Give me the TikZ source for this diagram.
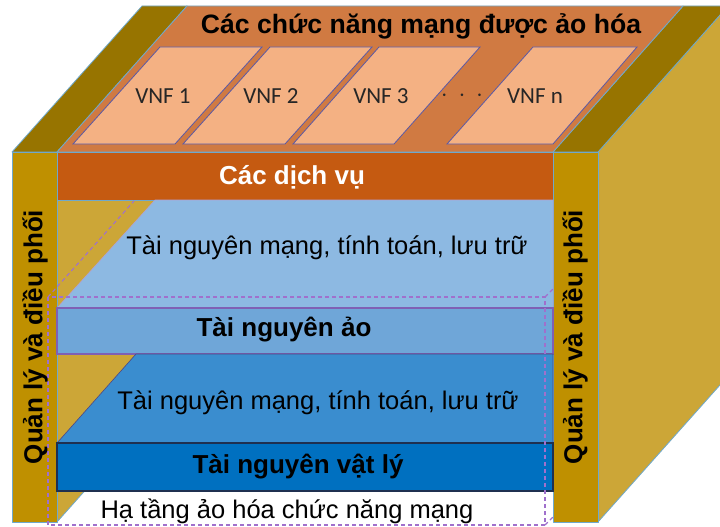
\documentclass[tikz,border=0pt]{standalone}
\usepackage{fontspec}
\setmainfont{Liberation Sans}
\newfontfamily\vnffont{Carlito}
\definecolor{pillarfront}{HTML}{BF9000}
\definecolor{pillartop}{HTML}{977400}
\definecolor{pillarside}{HTML}{CCA637}
\definecolor{vnftop}{HTML}{D07A42}
\definecolor{servband}{HTML}{C55A11}
\definecolor{vnfbox}{HTML}{F4B183}
\definecolor{lightface}{HTML}{8DB9E2}
\definecolor{virtband}{HTML}{6FA6D8}
\definecolor{darkface}{HTML}{3A8DCF}
\definecolor{physband}{HTML}{0070C0}
\definecolor{edgeline}{HTML}{6FA9CC}
\definecolor{dashpurple}{HTML}{A070CC}
\definecolor{bandpurple}{HTML}{7F60B4}
\definecolor{navyline}{HTML}{1F3050}
\tikzset{
  face/.style={draw=edgeline, line width=0.8pt, line join=round},
  vnfshape/.style={fill=vnfbox, draw=gray!70!blue, line width=0.8pt},
  boxlabel/.style={font=\fontsize{26}{30}\selectfont\bfseries, inner sep=0pt},
  plainlabel/.style={font=\fontsize{25.5}{30}\selectfont, inner sep=0pt},
  vnflabel/.style={font=\vnffont\fontsize{23}{28}\selectfont, text=black!85, inner sep=0pt},
  sidelabel/.style={font=\fontsize{26}{30}\selectfont\bfseries, rotate=90, inner sep=0pt},
  outline/.style={draw=dashpurple, line width=1.1pt, dash pattern=on 4pt off 3pt}
}
\begin{document}
\begin{tikzpicture}[x=1pt, y=-1pt]
  \useasboundingbox (0,0) rectangle (720,527);
  \clip (0,0) rectangle (720,527);

  % right pillar: side, top and front faces
  \fill[pillarside, face] (598,152) -- (728,6) -- (728,376) -- (598,522) -- cycle;
  \fill[pillartop, face] (553,152) -- (598,152) -- (728,6) -- (683,6) -- cycle;
  \fill[pillarfront, face] (553,152) rectangle (598,522);

  % left pillar: inner face, top and front faces
  \fill[pillarside, face] (57,152) -- (187,6) -- (187,376) -- (57,522) -- cycle;
  \fill[pillartop, face] (12,152) -- (57,152) -- (187,6) -- (142,6) -- cycle;
  \fill[pillarfront, face] (12,152) rectangle (57,522);

  % top layer: virtualised network functions and services
  \fill[vnftop, face] (57,152) -- (187,6) -- (683,6) -- (553,152) -- cycle;
  \fill[servband, face] (57,152) rectangle (553,200);

  % VNF tiles
  \fill[vnfshape] (73,144) -- (175,144) -- (262,47) -- (160,47) -- cycle;
  \fill[vnfshape] (183,144) -- (285,144) -- (372,47) -- (270,47) -- cycle;
  \fill[vnfshape] (293,144) -- (394,144) -- (480,47) -- (379,47) -- cycle;
  \fill[vnfshape] (447,144) -- (553,144) -- (637,47) -- (533,47) -- cycle;

  % resource layers
  \fill[lightface, draw=bandpurple!60, line width=0.6pt] (57,308) -- (155,200) -- (553,200) -- (553,308) -- cycle;
  \fill[virtband, draw=bandpurple, line width=1.4pt] (57,308) rectangle (553,354);
  \fill[darkface, draw=bandpurple!50!navyline, line width=0.6pt] (57,443) -- (136,354) -- (553,354) -- (553,443) -- cycle;
  \fill[physband, draw=navyline, line width=1.2pt] (57,443) rectangle (553,491);

  % dashed outline of the NFV infrastructure
  \draw[outline] (48,297) rectangle (545,525);
  \draw[outline] (48,297) -- (134,201);
  \draw[outline] (545,297) -- (553,289);
  \draw[outline] (545,525) -- (553,517);

  % labels
  \node[boxlabel, font=\fontsize{26.6}{30}\selectfont\bfseries] (title) at (421,26) {Các chức năng mạng được ảo hóa};
  \node[vnflabel] (vnf1) at (163,96) {VNF 1};
  \node[vnflabel] (vnf2) at (271,96) {VNF 2};
  \node[vnflabel] (vnf3) at (381,96) {VNF 3};
  \node[vnflabel] (dots) at (462,96) {$\cdot\ \cdot\ \cdot$};
  \node[vnflabel] (vnfn) at (535,96) {VNF n};
  \node[boxlabel, text=white] (services) at (292,177) {Các dịch vụ};
  \node[plainlabel] (res1) at (327,248) {Tài nguyên mạng, tính toán, lưu trữ};
  \node[boxlabel] (virt) at (284,330) {Tài nguyên ảo};
  \node[plainlabel] (res2) at (318,403) {Tài nguyên mạng, tính toán, lưu trữ};
  \node[boxlabel] (phys) at (298,467) {Tài nguyên vật lý};
  \node[plainlabel] (nfvi) at (287,511) {Hạ tầng ảo hóa chức năng mạng};
  \node[sidelabel] (mgmtL) at (35,337) {Quản lý và điều phối};
  \node[sidelabel] (mgmtR) at (575,337) {Quản lý và điều phối};
\end{tikzpicture}
\end{document}
